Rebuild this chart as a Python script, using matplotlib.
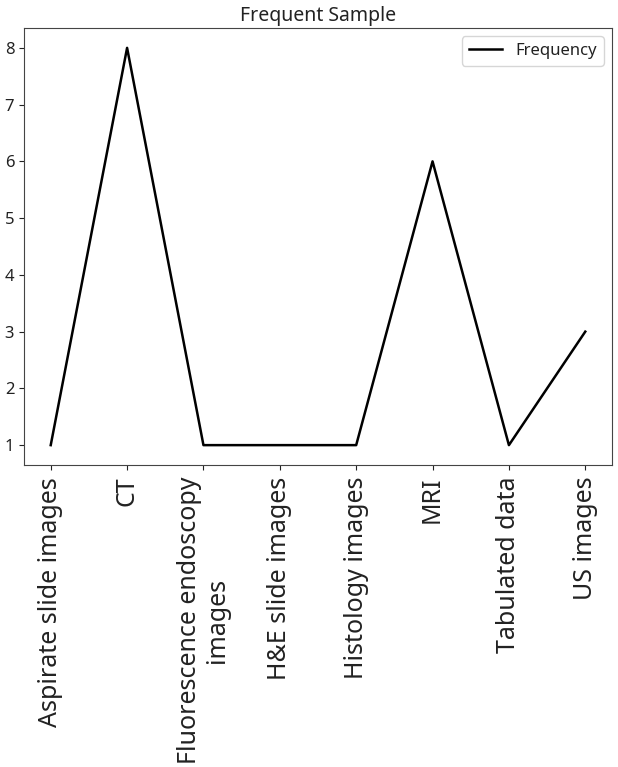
import matplotlib
matplotlib.use("Agg")
import matplotlib.pyplot as plt

plt.rcParams["font.family"] = ["Noto Sans", "DejaVu Sans"]

categories = [
    "Aspirate slide images",
    "CT",
    "Fluorescence endoscopy\nimages",
    "H&E slide images",
    "Histology images",
    "MRI",
    "Tabulated data",
    "US images",
]
frequency = [1, 8, 1, 1, 1, 6, 1, 3]

fig = plt.figure(figsize=(6.18, 7.67), dpi=100)
ax = fig.add_axes([24 / 618, 1 - 465 / 767, 588 / 618, (465 - 28) / 767])

ax.plot(categories, frequency, color="black", linewidth=1.8, label="Frequency")
ax.set_title("Frequent Sample", fontsize=14, color="#222222", pad=5)
ax.tick_params(axis="x", labelsize=18, rotation=90, colors="#222222", pad=5)
ax.tick_params(axis="y", labelsize=12, colors="#222222")
for sp in ax.spines.values():
    sp.set_color("#444444")
ax.legend(loc="upper right", fontsize=12, labelcolor="#222222")

fig.savefig("out.png", dpi=100)
plt.close(fig)
